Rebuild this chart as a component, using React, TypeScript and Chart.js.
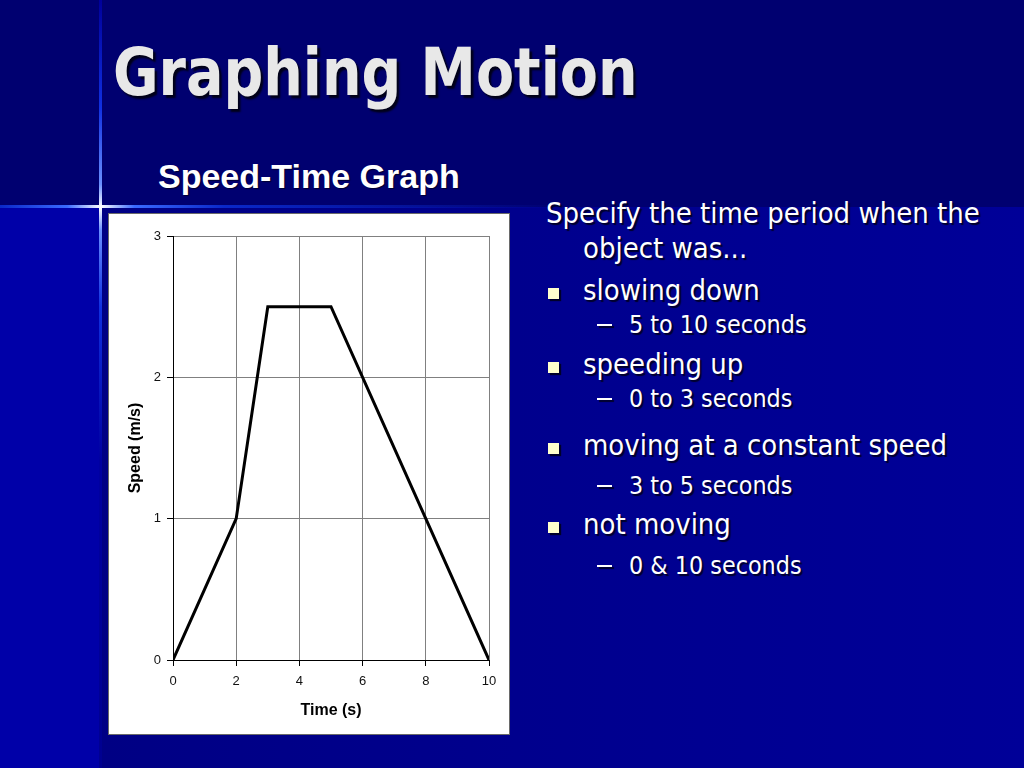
import React, { useEffect, useRef } from 'react';
import Chart from 'chart.js/auto';

// Speed-time data
const timeValues = [0, 2, 3, 5, 10];
const speedValues = [0, 1, 2.5, 2.5, 0];
const xTickValues = [0, 2, 4, 6, 8, 10];
const yTickValues = [0, 1, 2, 3];

const introLines = ['Specify the time period when the', 'object was...'];
const bulletLabels = ['slowing down', 'speeding up', 'moving at a constant speed', 'not moving'];
const bulletAnswers = ['5 to 10 seconds', '0 to 3 seconds', '3 to 5 seconds', '0 & 10 seconds'];

const bulletBaselines = [299, 373, 454, 533];
const answerBaselines = [332, 406, 493, 573];

const SpeedTimeChart: React.FC = () => {
    const canvasRef = useRef<HTMLCanvasElement>(null);
    const chartRef = useRef<Chart | null>(null);

    useEffect(() => {
        if (!canvasRef.current) return;
        const ctx = canvasRef.current.getContext('2d');
        if (!ctx) return;

        const tickFont = { family: "'Liberation Sans', Arial, sans-serif", size: 13 };
        const titleFont = { family: "'Liberation Sans', Arial, sans-serif", size: 16, weight: 'bold' as const };

        chartRef.current = new Chart(ctx, {
            type: 'scatter',
            data: {
                datasets: [{
                    label: 'Speed',
                    data: timeValues.map((t, i) => ({ x: t, y: speedValues[i] })),
                    showLine: true,
                    borderColor: '#000',
                    borderWidth: 3,
                    pointRadius: 0,
                    tension: 0,
                }],
            },
            options: {
                animation: false,
                responsive: true,
                maintainAspectRatio: false,
                layout: { padding: { top: 22, right: 20, left: 0, bottom: 0 } },
                plugins: {
                    legend: { display: false },
                    tooltip: { enabled: false },
                },
                scales: {
                    x: {
                        type: 'linear',
                        min: xTickValues[0],
                        max: xTickValues[xTickValues.length - 1],
                        afterBuildTicks: (scale: any) => {
                            scale.ticks = xTickValues.map(v => ({ value: v }));
                        },
                        afterFit: (scale: any) => { scale.height = 74; },
                        ticks: { color: '#111', font: tickFont, padding: 8, maxRotation: 0 },
                        grid: { color: '#808080', tickColor: '#000', tickLength: 6, lineWidth: 1 },
                        border: { color: '#000', width: 1 },
                        title: { display: true, text: 'Time (s)', color: '#000', font: titleFont, padding: { bottom: 14 } },
                    },
                    y: {
                        type: 'linear',
                        min: yTickValues[0],
                        max: yTickValues[yTickValues.length - 1],
                        afterBuildTicks: (scale: any) => {
                            scale.ticks = yTickValues.map(v => ({ value: v }));
                        },
                        afterFit: (scale: any) => { scale.width = 64; },
                        ticks: { color: '#111', font: tickFont, padding: 6 },
                        grid: { color: '#808080', tickColor: '#000', tickLength: 6, lineWidth: 1 },
                        border: { color: '#000', width: 1 },
                        title: { display: true, text: 'Speed (m/s)', color: '#000', font: titleFont, padding: { top: 17 } },
                    },
                },
            },
        });

        return () => {
            chartRef.current?.destroy();
            chartRef.current = null;
        };
    }, []);

    return <canvas ref={canvasRef} />;
};

const bodyFont = "'DejaVu Sans', Verdana, sans-serif";
const bodyShadow = '2px 2px 1px #00002a';

const Line: React.FC<{ x: number; baseline: number; size: number; text: string }> = ({ x, baseline, size, text }) => (
    <div
        style={{
            position: 'absolute',
            left: x,
            top: baseline - size + 3,
            height: size * 1.2,
            lineHeight: `${size * 1.2}px`,
            fontSize: size,
            fontFamily: bodyFont,
            color: '#fff',
            whiteSpace: 'nowrap',
            textShadow: bodyShadow,
            transform: 'scaleX(0.93)',
            transformOrigin: 'left center',
        }}
    >
        {text}
    </div>
);

const App: React.FC = () => {
    return (
        <div style={{ position: 'fixed', left: 0, top: 0, width: 1024, height: 768, overflow: 'hidden', background: '#000070' }}>
            {/* lower background areas */}
            <div style={{ position: 'absolute', left: 0, top: 207, width: 100, height: 561, background: '#0000a8' }} />
            <div style={{ position: 'absolute', left: 100, top: 207, width: 924, height: 561, background: 'linear-gradient(to right, #000084, #000098)' }} />

            {/* glow cross */}
            <div style={{
                position: 'absolute', left: 99, top: 0, width: 3, height: 768,
                background: 'linear-gradient(to bottom, #00009a 0%, #1030e0 14%, #6a90ff 24%, #ffffff 27%, #6a90ff 30%, #1030e0 40%, #0000a0 60%, #000090 100%)',
            }} />
            <div style={{
                position: 'absolute', left: 0, top: 205, width: 560, height: 3,
                background: 'linear-gradient(to right, #0a28c8 0%, #3a6aff 12%, #ffffff 18%, #3a6aff 24%, #0a28c8 40%, rgba(10,20,180,0) 100%)',
            }} />

            {/* title */}
            <div style={{
                position: 'absolute', left: 113, top: 34, fontSize: 65, lineHeight: '78px',
                fontFamily: bodyFont, fontWeight: 'bold', color: '#e8e8e8', whiteSpace: 'nowrap',
                textShadow: '3px 3px 2px #000018', transform: 'scaleX(0.855)', transformOrigin: 'left center',
            }}>
                Graphing Motion
            </div>

            {/* subtitle */}
            <div style={{
                position: 'absolute', left: 158, top: 156, fontSize: 34, lineHeight: '40px',
                fontFamily: "'Liberation Sans', Arial, sans-serif", fontWeight: 'bold', color: '#fff',
                whiteSpace: 'nowrap', textShadow: '1px 1px 1px #000030',
            }}>
                Speed-Time Graph
            </div>

            {/* chart box */}
            <div style={{
                position: 'absolute', left: 108, top: 213, width: 402, height: 522, boxSizing: 'border-box',
                border: '1px solid #6a6a6a', background: '#fff',
            }}>
                <div style={{ position: 'relative', width: 400, height: 520 }}>
                    <SpeedTimeChart />
                </div>
            </div>

            {/* right text */}
            <Line x={546} baseline={222} size={28} text={introLines[0]} />
            <Line x={583} baseline={257} size={28} text={introLines[1]} />
            {bulletLabels.map((label, i) => (
                <React.Fragment key={label}>
                    <div style={{
                        position: 'absolute', left: 548, top: bulletBaselines[i] - 11, width: 11, height: 11,
                        background: '#ffffcc', boxShadow: '2px 2px 1px #00002a',
                    }} />
                    <Line x={583} baseline={bulletBaselines[i]} size={28} text={label} />
                    <div style={{
                        position: 'absolute', left: 597, top: answerBaselines[i] - 8, width: 15, height: 2,
                        background: '#fff', boxShadow: '2px 2px 1px #00002a',
                    }} />
                    <Line x={629} baseline={answerBaselines[i]} size={24} text={bulletAnswers[i]} />
                </React.Fragment>
            ))}
        </div>
    );
};

export default App;
